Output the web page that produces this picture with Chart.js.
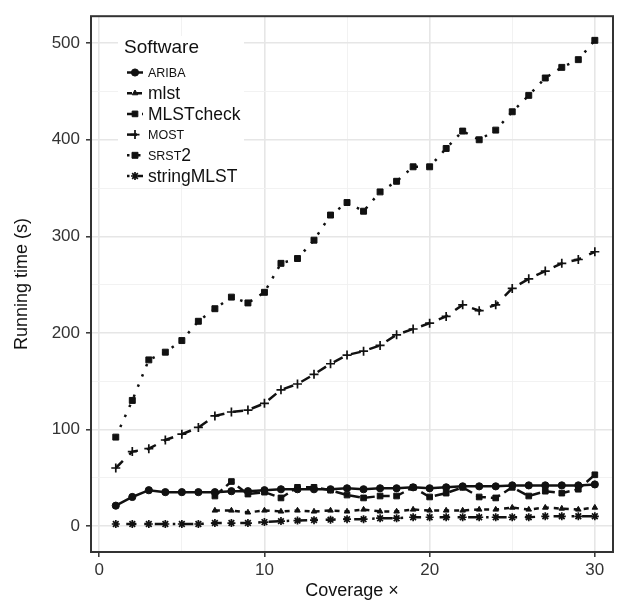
<!DOCTYPE html>
<html>
<head>
<meta charset="utf-8">
<script src="https://cdn.jsdelivr.net/npm/chart.js@4.4.0/dist/chart.umd.min.js"></script>
<style>
  html, body { margin: 0; padding: 0; background: #fff; }
  #wrap { width: 620px; height: 607px; }
</style>
</head>
<body>
<div id="wrap"><canvas id="chart" width="620" height="607"></canvas></div>
<script>
// coverage values (x) and running times (s)
const COVERAGE = [1,2,3,4,5,6,7,8,9,10,11,12,13,14,15,16,17,18,19,20,21,22,23,24,25,26,27,28,29,30];
const COVERAGE_FROM7 = [7,8,9,10,11,12,13,14,15,16,17,18,19,20,21,22,23,24,25,26,27,28,29,30];

const ARIBA = [21,30,37,35,35,35,35,36,36,37,38,38,38,38,39,38,39,39,40,39,40,41,41,41,42,42,42,42,42,43];
const MLST = [16,16,14,16,15,16,15,16,15,17,15,15,17,16,16,16,17,17,19,17,19,18,17,19];
const MLSTCHECK = [31,46,33,35,29,40,40,37,32,29,31,31,40,30,34,40,30,29,40,31,36,34,38,53];
const MOST = [60,77,80,89,95,102,114,118,120,127,141,147,157,168,177,181,187,198,204,210,217,229,223,229,246,256,264,272,276,284];
const SRST2 = [92,130,172,180,192,212,225,237,231,242,272,277,296,322,335,326,346,357,372,372,391,409,400,410,429,446,464,475,483,503];
const STRINGMLST = [2,2,2,2,2,2,3,3,3,4,5,5.5,6,6.5,7,7,8,8,9,9,9,9,9,9,9,9,10,10,10,10];

const X_TICKS = [0,5,10,15,20,25,30];
const Y_TICKS = [0,50,100,150,200,250,300,350,400,450,500];
const SMALL_CAPS = ['ARIBA','MOST','SRST'];

const FONT = '"Liberation Sans", Arial, sans-serif';
const INK = '#111';

function pts(xs, ys) { return xs.map((x, i) => ({ x, y: ys[i] })); }

function series(label, xs, ys, dash, style, radius) {
  return {
    label,
    data: pts(xs, ys),
    borderColor: INK,
    backgroundColor: INK,
    borderWidth: 2.5,
    borderDash: dash,
    pointStyle: style,
    pointRadius: radius,
    pointHoverRadius: radius,
    pointBorderWidth: (style === 'cross' || style === 'star') ? 1.7 : 1,
    pointBackgroundColor: INK,
    pointBorderColor: INK,
    tension: 0,
  };
}

const datasets = [
  series('ARIBA', COVERAGE, ARIBA, [], 'circle', 3.6),
  series('mlst', COVERAGE_FROM7, MLST, [5, 5], 'triangle', 3.2),
  series('MLSTcheck', COVERAGE_FROM7, MLSTCHECK, [10, 5], 'rect', 4),
  series('MOST', COVERAGE, MOST, [10, 9], 'cross', 4.5),
  series('SRST2', COVERAGE, SRST2, [2.5, 8.5], 'rect', 4.2),
  series('stringMLST', COVERAGE, STRINGMLST, [2.5, 8, 10, 8], 'star', 4),
];

// panel frame (ggplot-style border all round)
const framePlugin = {
  id: 'frame',
  afterDatasetsDraw(chart) {
    const { ctx, chartArea: a } = chart;
    ctx.save();
    ctx.strokeStyle = '#333';
    ctx.lineWidth = 2;
    ctx.setLineDash([]);
    ctx.strokeRect(a.left, a.top, a.right - a.left, a.bottom - a.top);
    ctx.restore();
  }
};

// legend inside the panel, with small caps for the acronym names
function labelRuns(text) {
  const runs = [];
  let rest = text;
  while (rest.length) {
    const hit = SMALL_CAPS.find((s) => rest.startsWith(s));
    if (hit) { runs.push([hit, true]); rest = rest.slice(hit.length); }
    else { runs.push([rest[0], false]); rest = rest.slice(1); }
  }
  return runs;
}

const legendPlugin = {
  id: 'swLegend',
  afterDraw(chart) {
    const ctx = chart.ctx;
    ctx.save();
    ctx.fillStyle = '#fff';
    ctx.fillRect(118, 36, 126, 148);

    ctx.fillStyle = INK;
    ctx.font = '19px ' + FONT;
    ctx.textBaseline = 'alphabetic';
    ctx.textAlign = 'left';
    ctx.fillText('Software', 124, 53);

    chart.data.datasets.forEach((ds, i) => {
      const y = 72.5 + i * 20.7;
      ctx.strokeStyle = INK;
      ctx.lineWidth = 2.5;
      ctx.setLineDash(ds.borderDash);
      ctx.beginPath();
      ctx.moveTo(127, y);
      ctx.lineTo(143, y);
      ctx.stroke();
      ctx.setLineDash([]);
      ctx.fillStyle = INK;
      ctx.lineWidth = ds.pointBorderWidth;
      Chart.helpers.drawPoint(ctx, {
        pointStyle: ds.pointStyle, radius: ds.pointRadius, rotation: 0, borderWidth: ds.pointBorderWidth
      }, 135, y);

      let x = 148;
      labelRuns(ds.label).forEach(([t, small]) => {
        ctx.font = (small ? '12.5px ' : '17.5px ') + FONT;
        ctx.fillText(t, x, y + (small ? 4.5 : 6));
        x += ctx.measureText(t).width;
      });
    });
    ctx.restore();
  }
};

new Chart(document.getElementById('chart'), {
  type: 'line',
  data: { datasets },
  plugins: [framePlugin, legendPlugin],
  options: {
    responsive: false,
    animation: false,
    events: [],
    layout: { padding: { top: 9, right: 7, left: 0, bottom: 0 } },
    plugins: { legend: { display: false }, tooltip: { enabled: false } },
    scales: {
      x: {
        type: 'linear',
        min: -0.5,
        max: 31.1,
        afterBuildTicks: (axis) => { axis.ticks = X_TICKS.map((v) => ({ value: v })); },
        afterFit: (axis) => { axis.height = 55; },
        grid: {
          color: (c) => (c.tick && c.tick.value % 10 === 0 ? '#e6e6e6' : '#f1f1f1'),
          lineWidth: (c) => (c.tick && c.tick.value % 10 === 0 ? 1.6 : 0.9),
          tickColor: (c) => (c.tick && c.tick.value % 10 === 0 ? '#333' : 'rgba(0,0,0,0)'),
          tickLength: 5,
          tickWidth: 1.5,
        },
        border: { display: false },
        ticks: {
          padding: 3,
          color: '#333',
          font: { family: FONT, size: 17 },
          maxRotation: 0,
          callback: (v) => (v % 10 === 0 ? String(v) : ''),
        },
        title: {
          display: true,
          text: 'Coverage ×',
          color: INK,
          font: { family: FONT, size: 18 },
          padding: { top: 0, bottom: 5 },
        },
      },
      y: {
        type: 'linear',
        min: -27,
        max: 528,
        afterBuildTicks: (axis) => { axis.ticks = Y_TICKS.map((v) => ({ value: v })); },
        afterFit: (axis) => { axis.width = 91; },
        grid: {
          color: (c) => (c.tick && c.tick.value % 100 === 0 ? '#e6e6e6' : '#f1f1f1'),
          lineWidth: (c) => (c.tick && c.tick.value % 100 === 0 ? 1.6 : 0.9),
          tickColor: (c) => (c.tick && c.tick.value % 100 === 0 ? '#333' : 'rgba(0,0,0,0)'),
          tickLength: 5,
          tickWidth: 1.5,
        },
        border: { display: false },
        ticks: {
          padding: 6,
          color: '#333',
          font: { family: FONT, size: 17 },
          callback: (v) => (v % 100 === 0 ? String(v) : ''),
        },
        title: {
          display: true,
          text: 'Running time (s)',
          color: INK,
          font: { family: FONT, size: 18 },
          padding: { top: 11, bottom: 0 },
        },
      },
    },
  },
});
</script>
</body>
</html>
